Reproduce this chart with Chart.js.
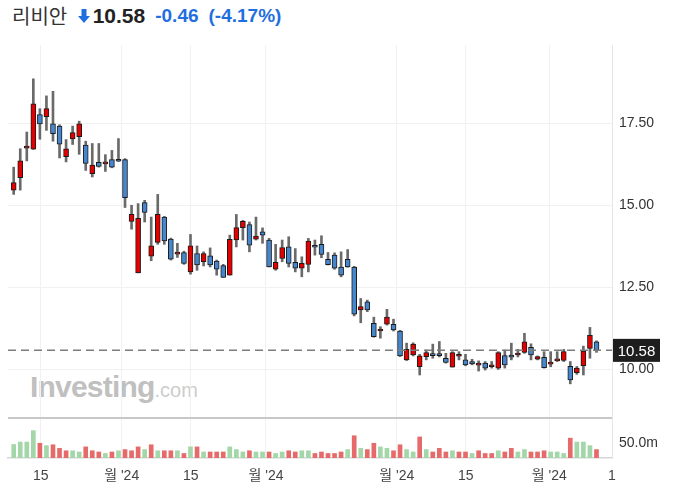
<!DOCTYPE html>
<html><head><meta charset="utf-8">
<script src="https://cdn.jsdelivr.net/npm/chart.js@4.4.1/dist/chart.umd.min.js"></script>
<style>
html,body{margin:0;padding:0;background:#fff;width:685px;height:492px;overflow:hidden;font-family:"Liberation Sans",Arial,sans-serif;}
#hdr{position:absolute;left:12px;top:1px;height:28px;line-height:28px;white-space:nowrap;}
#hdr span{vertical-align:middle;}
.nm{font-family:"Noto Sans CJK KR","Liberation Sans",sans-serif;font-size:20px;color:#333;}
.px{font-size:21px;font-weight:bold;color:#222;margin-left:2px;}
.ch{font-size:19px;font-weight:bold;color:#1f6fe0;margin-left:10px;}
#c1{position:absolute;left:0;top:40px;}
#c2{position:absolute;left:0;top:414px;}
#wm{position:absolute;left:30px;top:370px;white-space:nowrap;color:#c0c0c0;}
#wm .a{font-size:30px;font-weight:bold;letter-spacing:-0.8px;}
#wm .b{font-size:20px;color:#cdcdcd;}
</style></head>
<body>
<div id="hdr"><span class="nm">리비안</span>
<svg width="14" height="16" viewBox="0 0 14 16" style="vertical-align:middle;margin-left:5px"><path d="M4.5 1h5v7h3.5L7 15 1 8h3.5z" fill="#1f6fe0"/></svg><span class="px">10.58</span><span class="ch">-0.46</span><span class="ch">(-4.17%)</span></div>
<div id="wm"><span class="a">Investing</span><span class="b">.com</span></div>
<canvas id="c1" width="685" height="380"></canvas>
<canvas id="c2" width="685" height="78"></canvas>
<script>
// ---- data ----
const open  = [15.46,15.84,16.74,16.71,17.76,17.70,17.48,17.41,16.48,17.02,17.09,16.83,15.96,16.31,16.26,16.39,16.39,16.39,14.51,12.94,15.08,13.45,13.87,14.64,13.97,13.51,13.56,12.97,13.53,13.28,13.46,13.30,13.16,12.87,13.94,14.32,14.41,13.97,14.19,13.94,13.05,13.38,13.73,13.26,13.08,13.20,13.78,13.81,13.35,13.48,13.12,13.35,13.12,11.81,12.06,11.40,11.17,11.38,11.37,11.17,10.29,10.44,10.08,10.39,10.44,10.45,10.34,10.07,10.40,10.29,10.24,10.13,10.19,10.08,10.04,10.42,10.44,10.44,10.52,10.67,10.31,10.37,10.16,10.26,10.27,10.09,9.90,10.11,10.64,10.84];
const high  = [16.16,16.72,17.23,18.85,17.94,18.33,18.47,17.45,17.00,17.41,17.56,16.95,16.88,16.88,16.54,16.67,17.03,16.42,15.00,15.05,15.15,14.64,15.33,14.66,14.00,13.84,13.60,14.11,13.76,13.58,13.70,13.33,13.20,14.09,14.72,14.54,14.49,14.64,14.31,13.99,13.81,13.94,14.04,13.68,13.43,13.99,13.94,14.07,13.56,13.55,13.58,13.65,13.14,12.16,12.11,11.59,11.30,11.83,11.53,11.19,10.80,10.81,10.46,10.59,10.77,10.85,10.49,10.54,10.54,10.46,10.31,10.26,10.24,10.24,10.54,10.59,10.80,10.61,11.10,10.78,10.41,10.54,10.54,10.54,10.61,10.24,10.09,10.71,11.28,10.87];
const low   = [15.33,15.46,16.35,16.70,17.01,17.28,16.95,16.44,16.32,16.85,16.55,16.06,15.86,16.16,16.03,16.14,16.33,14.93,14.27,12.94,14.49,13.31,13.81,13.81,13.33,13.41,13.20,12.90,13.02,13.15,13.12,12.87,12.80,12.87,13.73,13.94,13.58,13.94,13.84,13.12,13.02,13.28,13.12,12.97,12.82,12.97,13.48,13.40,13.18,13.05,12.82,13.11,11.63,11.42,11.76,10.98,10.95,11.35,11.17,10.39,10.27,10.41,9.83,10.29,10.34,10.38,10.19,10.07,10.29,10.11,10.14,9.95,9.98,10.04,10.00,10.04,10.29,10.38,10.49,10.29,10.29,10.04,10.08,10.24,10.24,9.56,9.85,9.83,10.34,10.52];
const close = [15.69,16.35,16.76,18.09,17.48,17.94,17.18,16.86,16.72,17.21,17.48,16.27,16.22,16.18,16.28,16.16,16.34,15.23,14.72,14.60,14.78,13.76,14.72,13.91,13.36,13.53,13.23,13.76,13.18,13.53,13.18,13.05,12.80,13.96,14.32,14.51,13.78,14.06,14.09,13.12,13.26,13.71,13.23,13.08,13.23,13.91,13.72,13.50,13.19,13.08,12.87,13.12,11.68,11.91,11.81,11.00,11.19,11.59,11.20,10.41,10.61,10.77,10.41,10.51,10.42,10.42,10.21,10.51,10.42,10.14,10.17,10.15,10.04,10.10,10.51,10.14,10.37,10.46,10.84,10.44,10.39,10.05,10.18,10.28,10.54,9.68,10.04,10.56,11.04,10.58];
const volume = [45,53,53,91,49,41,44,32,24,24,20,37,24,20,15,20,24,28,24,37,28,44,24,24,24,24,15,37,37,20,20,20,20,37,28,20,24,20,20,20,15,20,24,20,24,24,15,20,15,15,20,28,74,32,28,49,37,32,24,44,28,20,70,28,20,32,20,24,20,20,15,24,15,15,24,20,32,20,28,20,20,24,20,20,15,66,53,53,41,28];
const volUp = [1,1,1,1,0,1,0,0,0,1,1,0,0,0,1,0,1,0,0,0,1,0,1,0,0,1,0,1,0,1,0,0,0,1,1,1,0,1,1,0,1,1,0,0,1,1,0,0,0,0,0,1,0,1,0,0,1,1,0,0,1,1,0,1,0,0,0,1,0,0,1,0,0,0,1,0,0,1,1,0,0,0,1,1,1,0,1,1,1,0];
const tickPos = [5.12,17.49,28.03,39.53,59.49,70.03,82.80,92.37];
const tickLabels = ["15","월 '24","15","월 '24","월 '24","15","월 '24","1"];
const priceTicks = [10,12.5,15,17.5];
const volTicks = [50];
const lastPrice = close[close.length-1];

const idx = open.map((_, i) => i + 1);
const X_MIN = 0.13, X_MAX = 92.37;
const FONT = "'Liberation Sans','Noto Sans CJK KR',Arial,sans-serif";
const GRID = '#f1f1f1';
const UP = '#e30000', DN = '#4586cc';
const noPad = s => { s.paddingTop = 0; s.paddingBottom = 0; s.paddingLeft = 0; s.paddingRight = 0; };

const priceOverlay = {
  id: 'priceOverlay',
  afterDraw(chart) {
    const ctx = chart.ctx, a = chart.chartArea;
    const y = chart.scales.y.getPixelForValue(lastPrice);
    ctx.save();
    ctx.setLineDash([8, 5]);
    ctx.strokeStyle = '#7d7d7d';
    ctx.lineWidth = 1.5;
    ctx.beginPath(); ctx.moveTo(a.left, y); ctx.lineTo(a.right, y); ctx.stroke();
    ctx.setLineDash([]);
    ctx.fillStyle = '#1e1e1e';
    ctx.fillRect(a.right + 1, y - 11.5, 47, 23);
    ctx.fillStyle = '#fff';
    ctx.font = '15px ' + FONT;
    ctx.textAlign = 'center'; ctx.textBaseline = 'middle';
    ctx.fillText(lastPrice.toFixed(2), a.right + 24.5, y + 1);
    ctx.restore();
  }
};

new Chart(document.getElementById('c1'), {
  type: 'bar',
  data: {
    datasets: [
      {
        label: 'body', order: 0,
        data: idx.map((x, i) => ({ x, y: [open[i], close[i]] })),
        backgroundColor: idx.map((x, i) => close[i] >= open[i] ? UP : DN),
        borderColor: '#1b1b1b', borderWidth: 1, borderSkipped: false,
        barThickness: 5, minBarLength: 2
      },
      {
        label: 'wick', order: 1,
        data: idx.map((x, i) => ({ x, y: [low[i], high[i]] })),
        backgroundColor: '#6a6a6a', barThickness: 2
      }
    ]
  },
  options: {
    responsive: false, animation: false, grouped: false,
    layout: { padding: { left: 8, right: 0, top: 5, bottom: 2 } },
    plugins: { legend: { display: false }, tooltip: { enabled: false } },
    scales: {
      x: {
        type: 'linear', min: X_MIN, max: X_MAX, offset: false,
        afterBuildTicks: s => { s.ticks = tickPos.map(v => ({ value: v })); },
        afterFit: s => { s.height = 0; noPad(s); },
        ticks: { display: false },
        grid: { color: GRID, drawTicks: false, offset: false },
        border: { display: false }
      },
      y: {
        position: 'right', min: 8.52, max: 19.88,
        afterBuildTicks: s => { s.ticks = priceTicks.map(v => ({ value: v })); },
        afterFit: s => { s.width = 73; noPad(s); },
        ticks: { padding: 7, color: '#333', font: { size: 14, family: FONT }, callback: v => Number(v).toFixed(2) },
        grid: { color: GRID, drawTicks: false },
        border: { display: true, color: '#e6e6e6' }
      }
    }
  },
  plugins: [priceOverlay]
});

const volOverlay = {
  id: 'volOverlay',
  afterDraw(chart) {
    const ctx = chart.ctx, a = chart.chartArea;
    ctx.save();
    ctx.strokeStyle = '#c8c8c8'; ctx.lineWidth = 2;
    ctx.beginPath(); ctx.moveTo(a.left, a.top); ctx.lineTo(a.right, a.top); ctx.stroke();
    ctx.restore();
  }
};

new Chart(document.getElementById('c2'), {
  type: 'bar',
  data: {
    datasets: [{
      data: idx.map((x, i) => ({ x, y: volume[i] })),
      backgroundColor: volUp.map(u => u ? '#a3d7a9' : '#e66a6a'),
      barThickness: 4
    }]
  },
  options: {
    responsive: false, animation: false,
    layout: { padding: { left: 8, right: 0, top: 4, bottom: 0 } },
    plugins: { legend: { display: false }, tooltip: { enabled: false } },
    scales: {
      x: {
        type: 'linear', min: X_MIN, max: X_MAX, offset: false,
        afterBuildTicks: s => { s.ticks = tickPos.map(v => ({ value: v })); },
        afterFit: s => { s.height = 34; noPad(s); },
        ticks: { autoSkip: false, maxRotation: 0, padding: 10, color: '#444', font: { size: 14, family: FONT },
                 callback: (v, i) => tickLabels[i] },
        grid: { color: GRID, drawTicks: false, offset: false },
        border: { display: true, color: '#d6d6d6', width: 1.5 }
      },
      y: {
        position: 'right', min: 0, max: 133,
        afterBuildTicks: s => { s.ticks = volTicks.map(v => ({ value: v })); },
        afterFit: s => { s.width = 73; noPad(s); },
        ticks: { padding: 7, color: '#333', font: { size: 14, family: FONT }, callback: v => Number(v).toFixed(1) + 'm' },
        grid: { display: false, drawTicks: false },
        border: { display: true, color: '#e6e6e6' }
      }
    }
  },
  plugins: [volOverlay]
});
</script>
</body></html>
